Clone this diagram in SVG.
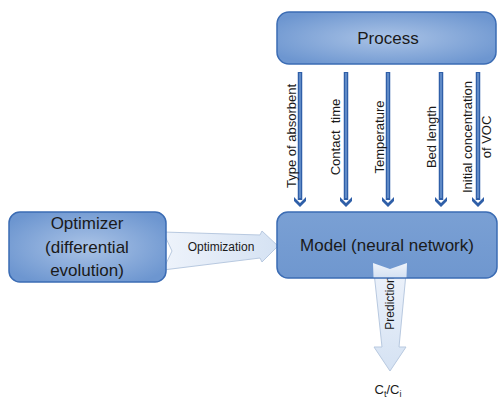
<svg xmlns="http://www.w3.org/2000/svg" width="498" height="400" viewBox="0 0 498 400">
<defs>
<radialGradient id="g1" cx="50%" cy="50%" r="60%">
<stop offset="0" stop-color="#aac3e6"/>
<stop offset="1" stop-color="#6d96d0"/>
</radialGradient>
<linearGradient id="g2" x1="0" y1="0" x2="0" y2="1">
<stop offset="0" stop-color="#7aa0d4"/>
<stop offset="1" stop-color="#6f97cf"/>
</linearGradient>
<linearGradient id="g3" x1="0" y1="0" x2="1" y2="0">
<stop offset="0" stop-color="#eef3fb"/>
<stop offset="1" stop-color="#d5e2f3"/>
</linearGradient>
<linearGradient id="g4" x1="0" y1="0" x2="0" y2="1">
<stop offset="0" stop-color="#eef3fb"/>
<stop offset="1" stop-color="#d5e2f3"/>
</linearGradient>
</defs>
<style>
.box{stroke:#3b6cb4;stroke-width:1.5}
.t{font-family:"Liberation Sans",Arial,sans-serif;fill:#1a1a1a;text-anchor:middle}
.shaft{stroke:#2f5fa8;stroke-width:4.5;fill:none}
.shaftin{stroke:#6f97d0;stroke-width:1.5;fill:none}
.head{fill:#2f5fa8}
.block{stroke:#b8c9e0;stroke-width:1}
</style>

<g id="connectors">
<g id="arrow-optimization">
<path class="block" d="M163,232 L260,235 L262,231 L278,246 L262,262 L260,258 L163,270 L172,251 Z" fill="url(#g3)"/>
<text class="t" x="221" y="251" font-size="12">Optimization</text>
</g>
<g id="arrow-prediction">
<path class="block" d="M373,263 L390,269 L407,263 L399,347 L406,347 L390,371 L374,347 L382,347 Z" fill="url(#g4)"/>
<text class="t" font-size="12" transform="translate(394,303) rotate(-90)">Prediction</text>
</g>
<g id="arrows-process">
<line class="shaft" x1="300" y1="72" x2="300" y2="200"/>
<line class="shaftin" x1="300" y1="73" x2="300" y2="198"/>
<path class="head" d="M294,197 L300,203 L306,197 L306,201 L300,207 L294,201 Z"/>
<line class="shaft" x1="346" y1="72" x2="346" y2="200"/>
<line class="shaftin" x1="346" y1="73" x2="346" y2="198"/>
<path class="head" d="M340,197 L346,203 L352,197 L352,201 L346,207 L340,201 Z"/>
<line class="shaft" x1="388" y1="72" x2="388" y2="200"/>
<line class="shaftin" x1="388" y1="73" x2="388" y2="198"/>
<path class="head" d="M382,197 L388,203 L394,197 L394,201 L388,207 L382,201 Z"/>
<line class="shaft" x1="441" y1="72" x2="441" y2="200"/>
<line class="shaftin" x1="441" y1="73" x2="441" y2="198"/>
<path class="head" d="M435,197 L441,203 L447,197 L447,201 L441,207 L435,201 Z"/>
<line class="shaft" x1="478" y1="72" x2="478" y2="200"/>
<line class="shaftin" x1="478" y1="73" x2="478" y2="198"/>
<path class="head" d="M472,197 L478,203 L484,197 L484,201 L478,207 L472,201 Z"/>
<text class="t" font-size="13" transform="translate(296,136) rotate(-90)">Type of absorbent</text>
<text class="t" font-size="13" transform="translate(340,137) rotate(-90)" xml:space="preserve">Contact  time</text>
<text class="t" font-size="13" transform="translate(384,137) rotate(-90)">Temperature</text>
<text class="t" font-size="13" transform="translate(436,137) rotate(-90)">Bed length</text>
<text class="t" font-size="13" transform="translate(472,137) rotate(-90)">Initial concentration</text>
<text class="t" font-size="13" transform="translate(491,137) rotate(-90)">of VOC</text>
</g>
</g>

<g id="process">
<rect class="box" x="277" y="12" width="219" height="52" rx="12" fill="url(#g1)"/>
<text class="t" x="388" y="44" font-size="17">Process</text>
</g>

<g id="optimizer">
<rect class="box" x="9" y="212" width="157" height="70" rx="11" fill="url(#g1)"/>
<text class="t" x="87" y="229" font-size="17">Optimizer</text>
<text class="t" x="87" y="253" font-size="17">(differential</text>
<text class="t" x="87" y="276" font-size="17">evolution)</text>
</g>

<g id="model">
<rect class="box" x="277" y="212" width="220" height="66" rx="11" fill="url(#g2)"/>
<text class="t" x="387" y="251" font-size="17">Model (neural network)</text>
</g>
<path d="M373,263 L390,269 L407,263 L406.5,277.3 L373.5,277.3 Z" fill="url(#g4)"/>

<g id="output">
<text class="t" x="388" y="394" font-size="13">C<tspan font-size="9" dy="3">t</tspan><tspan dy="-3">/C</tspan><tspan font-size="9" dy="3">i</tspan></text>
</g>
</svg>
